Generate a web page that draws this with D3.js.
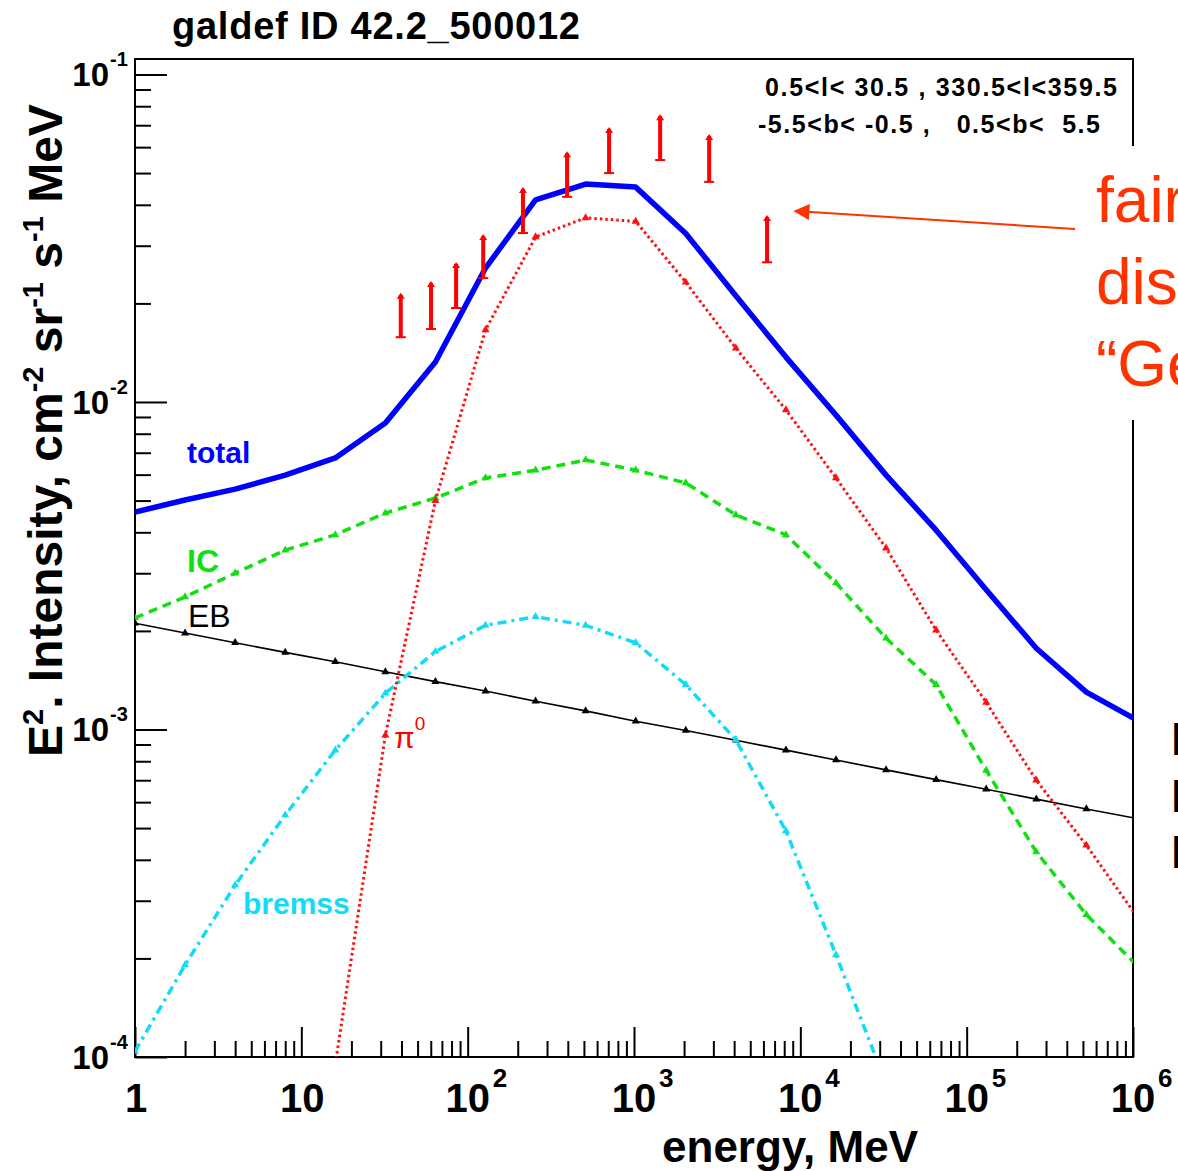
<!DOCTYPE html>
<html>
<head>
<meta charset="utf-8">
<script src="https://cdn.jsdelivr.net/npm/d3@7"></script>
<style>
body { margin: 0; background: #fff; }
svg { display: block; }
text { font-family: "Liberation Sans", Arial, sans-serif; }
</style>
</head>
<body>
<script>
var width = 1178
var height = 1171

// model energies (MeV), GALPROP grid
var energies = [1, 2, 4, 8, 16, 32, 64, 128, 256, 512, 1024, 2048, 4096, 8192, 16384,
    32768, 65536, 131072, 262144, 524288, 1048576]

// E^2 intensity components, cm^-2 sr^-1 s^-1 MeV
var totalVals = [4.61e-3, 5.02e-3, 5.42e-3, 5.98e-3, 6.75e-3, 8.63e-3, 0.01324, 0.02564, 0.0414, 0.0463,
    0.0453, 0.0327, 0.0211, 0.01371, 9.12e-3, 5.98e-3, 4.06e-3, 2.67e-3, 1.77e-3, 1.30e-3, 1.07e-3]
var pi0Vals = [null, null, null, null, 9.5e-5, 9.6e-4, 5.0e-3, 0.0166, 0.0319, 0.0365,
    0.0356, 0.0232, 0.0146, 9.46e-3, 5.86e-3, 3.58e-3, 2.01e-3, 1.21e-3, 7.0e-4, 4.43e-4, 2.7e-4]
var icVals = [2.19e-3, 2.54e-3, 3.0e-3, 3.53e-3, 3.93e-3, 4.58e-3, 5.09e-3, 5.86e-3, 6.19e-3, 6.65e-3,
    6.19e-3, 5.66e-3, 4.52e-3, 3.93e-3, 2.80e-3, 1.90e-3, 1.37e-3, 7.5e-4, 4.23e-4, 2.72e-4, 1.91e-4]
var ebVals = [2.11e-3, 1.97e-3, 1.84e-3, 1.72e-3, 1.61e-3, 1.50e-3, 1.40e-3, 1.31e-3, 1.22e-3, 1.14e-3,
    1.06e-3, 9.93e-4, 9.27e-4, 8.65e-4, 8.07e-4, 7.53e-4, 7.03e-4, 6.57e-4, 6.13e-4, 5.72e-4, 5.35e-4]
var bremssVals = [1.04e-4, 1.91e-4, 3.35e-4, 5.48e-4, 8.65e-4, 1.29e-3, 1.73e-3, 2.08e-3, 2.21e-3, 2.08e-3,
    1.84e-3, 1.37e-3, 9.29e-4, 4.9e-4, 2.05e-4, 8.3e-5, null, null, null, null, null]

// EGRET points
var dataE  = [39.6, 60.2, 85.2, 124, 215, 396, 708, 1436, 2830, 6310]
var dataLo = [0.01577, 0.0167, 0.01936, 0.0239, 0.0328, 0.0423, 0.0500, 0.0548, 0.0470, 0.0267]
var dataHi = [0.02125, 0.0231, 0.0264, 0.0321, 0.0447, 0.0575, 0.0682, 0.0746, 0.0649, 0.0367]

var xDecades = [1, 10, 1e2, 1e3, 1e4, 1e5, 1e6]
var yDecades = [1e-4, 1e-3, 1e-2, 1e-1]

var x = d3.scaleLog().domain([1, 1e6]).range([135, 1133])
var y = d3.scaleLog().domain([1e-4, 0.1115]).range([1057, 59])

var svg = d3.select('body').append('svg')
    .attr('width', width)
    .attr('height', height)

var defs = svg.append('defs')
defs.append('clipPath').attr('id', 'plotClip')
    .append('rect').attr('x', 135).attr('y', 59).attr('width', 998).attr('height', 998)

// minor ticks
var xMinor = [], yMinor = []
xDecades.slice(0, -1).forEach(d => { for (var k = 2; k < 10; k++) xMinor.push(d * k) })
;[1e-4, 1e-3, 1e-2].forEach(d => { for (var k = 2; k < 10; k++) yMinor.push(d * k) })

function axisG(gen) {
    var g = svg.append('g').call(gen)
    g.select('.domain').remove()
    g.selectAll('line').attr('stroke', '#000').attr('stroke-width', 2)
    g.selectAll('text').remove()
    return g
}
axisG(d3.axisBottom(x).tickValues(xDecades).tickSizeInner(-30).tickSizeOuter(0)).attr('transform', 'translate(0,1057)')
axisG(d3.axisBottom(x).tickValues(xMinor).tickSizeInner(-16).tickSizeOuter(0)).attr('transform', 'translate(0,1057)')
axisG(d3.axisLeft(y).tickValues(yDecades).tickSizeInner(-32).tickSizeOuter(0)).attr('transform', 'translate(135,0)')
axisG(d3.axisLeft(y).tickValues(yMinor).tickSizeInner(-16).tickSizeOuter(0)).attr('transform', 'translate(135,0)')

svg.append('rect')
    .attr('x', 135).attr('y', 59).attr('width', 998).attr('height', 998)
    .attr('fill', 'none').attr('stroke', '#000').attr('stroke-width', 2)

// tick labels
xDecades.forEach(d => {
    var k = Math.round(Math.log10(d))
    var t = svg.append('text').attr('y', 1112).attr('font-size', 40).attr('font-weight', 'bold')
    if (k < 2) {
        t.attr('x', x(d) + 1).attr('text-anchor', 'middle').text(k === 0 ? '1' : '10')
    } else {
        t.attr('x', x(d)).attr('text-anchor', 'middle').text('10')
        svg.append('text').attr('x', x(d) + 25).attr('y', 1087)
            .attr('font-size', 26).attr('font-weight', 'bold').text(k)
    }
})
yDecades.forEach(d => {
    var k = Math.round(Math.log10(d))
    svg.append('text').attr('x', 109).attr('y', y(d) + 12).attr('text-anchor', 'end')
        .attr('font-size', 33).attr('font-weight', 'bold').text('10')
    svg.append('text').attr('x', 110).attr('y', y(d) - 8)
        .attr('font-size', 20).attr('font-weight', 'bold').text(k)
})

// titles
svg.append('text').attr('x', 172).attr('y', 39).attr('font-size', 38).attr('font-weight', 'bold')
    .attr('textLength', 408).text('galdef ID 42.2_500012')

svg.append('text').attr('x', 918).attr('y', 1162).attr('text-anchor', 'end')
    .attr('font-size', 44).attr('font-weight', 'bold').text('energy, MeV')

var yt = svg.append('text').attr('transform', 'translate(62,757) rotate(-90)')
    .attr('font-size', 48).attr('font-weight', 'bold')
var ySup = (txt) => yt.append('tspan').attr('dy', -19).attr('font-size', 29).text(txt)
var yNorm = (txt) => yt.append('tspan').attr('dy', 19).text(txt)
yt.append('tspan').text('E')
ySup('2'); yNorm('. Intensity, cm')
ySup('-2'); yNorm(' sr')
ySup('-1'); yNorm(' s')
ySup('-1'); yNorm(' MeV')

svg.append('text').attr('x', 765).attr('y', 96).attr('font-size', 25).attr('font-weight', 'bold')
    .style('white-space', 'pre').attr('textLength', 352).text('0.5<l< 30.5 , 330.5<l<359.5')
svg.append('text').attr('x', 758).attr('y', 133).attr('font-size', 25).attr('font-weight', 'bold')
    .style('white-space', 'pre').attr('textLength', 342).text('-5.5<b< -0.5 ,   0.5<b<  5.5')

// model curves
var plot = svg.append('g').attr('clip-path', 'url(#plotClip)')

var series = [
    { name: 'IC', vals: icVals, color: '#10e010', width: 3.5, dash: '9,6', marker: true },
    { name: 'EB', vals: ebVals, color: '#000', width: 1.6, dash: null, marker: true },
    { name: 'bremss', vals: bremssVals, color: '#12dcf5', width: 3.5, dash: '9,5,3,5', marker: true },
    { name: 'pi0', vals: pi0Vals, color: '#ff1010', width: 3, dash: '2.5,3', marker: true },
    { name: 'total', vals: totalVals, color: '#0000ff', width: 5.5, dash: null, marker: false }
]

var line = d3.line()
    .defined(d => d[1] != null)
    .x(d => x(d[0]))
    .y(d => y(d[1]))

var tri = d3.symbol().type(d3.symbolTriangle).size(28)

series.forEach(s => {
    var pts = energies.map((e, i) => [e, s.vals[i]])
    plot.append('path')
        .attr('d', line(pts))
        .attr('fill', 'none')
        .attr('stroke', s.color)
        .attr('stroke-width', s.width)
        .attr('stroke-dasharray', s.dash)
        .attr('stroke-linejoin', 'round')
    if (s.marker) {
        plot.selectAll(null).data(pts.filter(p => p[1] != null)).enter()
            .append('path')
            .attr('d', tri)
            .attr('transform', p => `translate(${x(p[0])},${y(p[1])})`)
            .attr('fill', s.color)
    }
})

// EGRET data bars
var bars = svg.append('g').attr('stroke', '#ff0000').attr('fill', '#ff0000')
dataE.forEach((e, i) => {
    var cx = x(e), y0 = y(dataLo[i]), y1 = y(dataHi[i])
    bars.append('line').attr('x1', cx).attr('x2', cx).attr('y1', y0).attr('y2', y1).attr('stroke-width', 4)
    bars.append('line').attr('x1', cx - 5).attr('x2', cx + 5).attr('y1', y0).attr('y2', y0).attr('stroke-width', 2)
    bars.append('path').attr('stroke', 'none')
        .attr('d', `M${cx - 4},${y1 + 4}L${cx},${y1 - 2}L${cx + 4},${y1 + 4}Z`)
})

// curve labels
svg.append('text').attr('x', 187).attr('y', 463).attr('font-size', 30).attr('font-weight', 'bold')
    .attr('fill', '#0000ff').text('total')
svg.append('text').attr('x', 187).attr('y', 572).attr('font-size', 32).attr('font-weight', 'bold')
    .attr('fill', '#10e010').text('IC')
svg.append('text').attr('x', 188).attr('y', 627).attr('font-size', 32)
    .attr('fill', '#000').text('EB')
var pl = svg.append('text').attr('x', 394).attr('y', 748).attr('font-size', 30).attr('fill', '#ff0000')
pl.append('tspan').text('π')
pl.append('tspan').attr('dy', -18).attr('font-size', 19).text('0')
svg.append('text').attr('x', 243).attr('y', 914).attr('font-size', 30).attr('font-weight', 'bold')
    .attr('fill', '#12dcf5').text('bremss')

// overlay annotation
svg.append('rect').attr('x', 1077).attr('y', 146).attr('width', 101).attr('height', 274).attr('fill', '#fff')

defs.append('marker').attr('id', 'head').attr('viewBox', '0 0 10 10')
    .attr('refX', 9).attr('refY', 5)
    .attr('markerUnits', 'userSpaceOnUse').attr('orient', 'auto')
    .attr('markerWidth', 20).attr('markerHeight', 16)
    .append('path').attr('d', 'M0,0L10,5L0,10Z').attr('fill', '#ff3300')
svg.append('line').attr('x1', 1075).attr('y1', 229).attr('x2', 795).attr('y2', 211)
    .attr('stroke', '#ff3300').attr('stroke-width', 2).attr('marker-end', 'url(#head)')

var annot = ['fair', 'dis', '\u201cGe']
annot.forEach((t, i) => {
    svg.append('text').attr('x', 1096).attr('y', 222 + i * 82).attr('font-size', 64)
        .attr('fill', '#ff3300').text(t)
})

// cut-off slide text at right edge
;[755, 812, 868].forEach(b => {
    svg.append('text').attr('x', 1170).attr('y', b).attr('font-size', 46).attr('fill', '#000').text('I')
})
</script>
</body>
</html>
